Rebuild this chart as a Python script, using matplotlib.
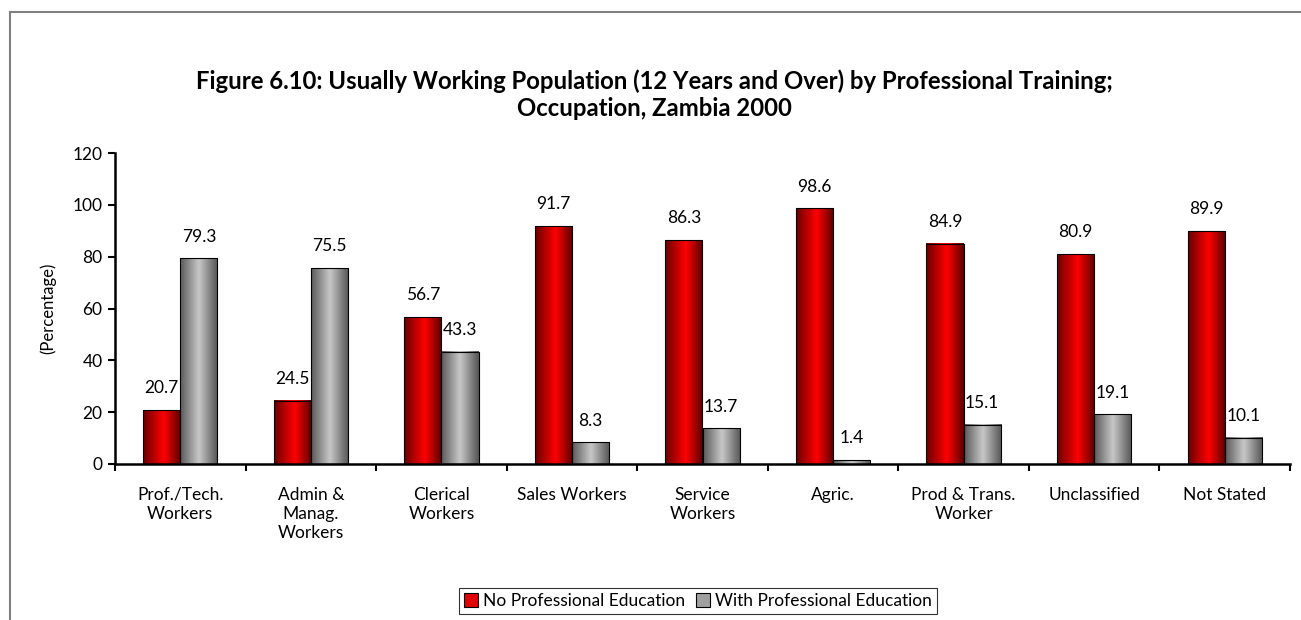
import matplotlib
matplotlib.use("Agg")
import matplotlib.pyplot as plt
import numpy as np
from matplotlib.patches import Patch
from matplotlib.lines import Line2D
from matplotlib.colors import LinearSegmentedColormap

categories = ["Prof./Tech.\nWorkers", "Admin &\nManag.\nWorkers", "Clerical\nWorkers",
              "Sales Workers", "Service\nWorkers", "Agric.", "Prod & Trans.\nWorker",
              "Unclassified", "Not Stated"]
no_prof = [20.7, 24.5, 56.7, 91.7, 86.3, 98.6, 84.9, 80.9, 89.9]
with_prof = [79.3, 75.5, 43.3, 8.3, 13.7, 1.4, 15.1, 19.1, 10.1]
series_names = ["No Professional Education", "With Professional Education"]
yticks = [0, 20, 40, 60, 80, 100, 120]

plt.rcParams['font.family'] = ['Lato', 'DejaVu Sans']

fig = plt.figure(figsize=(13.01, 6.2), dpi=100)
ax = fig.add_axes([115/1301, 1-464/620, (1290-115)/1301, (464-153)/620])

red_cmap = LinearSegmentedColormap.from_list("r", [(0, "#6a0000"), (0.55, "#ff0000"), (1, "#5a0000")])
gray_cmap = LinearSegmentedColormap.from_list("g", [(0, "#5a5a5a"), (0.5, "#c8c8c8"), (1, "#555555")])
grad = np.linspace(0, 1, 64).reshape(1, -1)

x = np.arange(len(categories))
w = 0.285
b1 = ax.bar(x - w/2, no_prof, w, facecolor="none", edgecolor="black", linewidth=0.8, zorder=3)
b2 = ax.bar(x + w/2, with_prof, w, facecolor="none", edgecolor="black", linewidth=0.8, zorder=3)

for bars, cmap in ((b1, red_cmap), (b2, gray_cmap)):
    for p in bars:
        x0 = p.get_x(); x1 = x0 + p.get_width(); h = p.get_height()
        ax.imshow(grad, cmap=cmap, extent=[x0, x1, 0, h], aspect='auto', zorder=2,
                  interpolation='bicubic')

fs = 12.5
for i in range(len(categories)):
    ax.annotate(f"{no_prof[i]}", (x[i] - w/2, no_prof[i]), xytext=(0, 10), textcoords="offset points",
                ha="center", va="bottom", fontsize=fs)
    ax.annotate(f"{with_prof[i]}", (x[i] + w/2, with_prof[i]), xytext=(0, 10), textcoords="offset points",
                ha="center", va="bottom", fontsize=fs)

ax.set_xlim(-0.5, len(categories) - 0.5)
ax.set_ylim(0, 120)
ax.set_yticks(yticks)
ax.set_yticklabels([str(t) for t in yticks], fontsize=fs)
ax.set_xticks(np.arange(len(categories) + 1) - 0.5)
ax.set_xticklabels([])
ax.set_xticks(x, minor=True)
ax.set_xticklabels(categories, minor=True, fontsize=fs, linespacing=1.25)
ax.tick_params(axis='x', which='minor', length=0, pad=16.5)
ax.tick_params(axis='x', which='major', length=5, width=1.5, direction='out')
ax.tick_params(axis='y', length=5, width=1.5, direction='out', pad=4)
for s in ("top", "right"):
    ax.spines[s].set_visible(False)
ax.spines["left"].set_linewidth(1.8)
ax.spines["bottom"].set_linewidth(1.8)
ax.set_ylabel("(Percentage)", fontsize=fs - 0.5, labelpad=12)

fig.text(0.503, 1-95/620, "Figure 6.10: Usually Working Population (12 Years and Over) by Professional Training;\nOccupation, Zambia 2000",
         ha="center", va="center", fontsize=17.2, fontweight="bold", linespacing=1.2)

handles = [Patch(facecolor="#e00000", edgecolor="black", linewidth=0.8),
           Patch(facecolor="#a0a0a0", edgecolor="black", linewidth=0.8)]
leg = fig.legend(handles, series_names, loc="center", bbox_to_anchor=(698/1301, 1-601/620),
                 ncol=2, frameon=True, fancybox=False, edgecolor="black", fontsize=fs,
                 handlelength=0.8, handleheight=0.8, handletextpad=0.3, columnspacing=0.6,
                 borderpad=0.3, borderaxespad=0)
leg.get_frame().set_linewidth(0.8)

fig.add_artist(Line2D([10/1301, 1], [1-12/620, 1-12/620], color="#808080", linewidth=1.5, transform=fig.transFigure))
fig.add_artist(Line2D([10/1301, 10/1301], [0, 1-12/620], color="#808080", linewidth=1.5, transform=fig.transFigure))

fig.savefig("out.png", dpi=100)
